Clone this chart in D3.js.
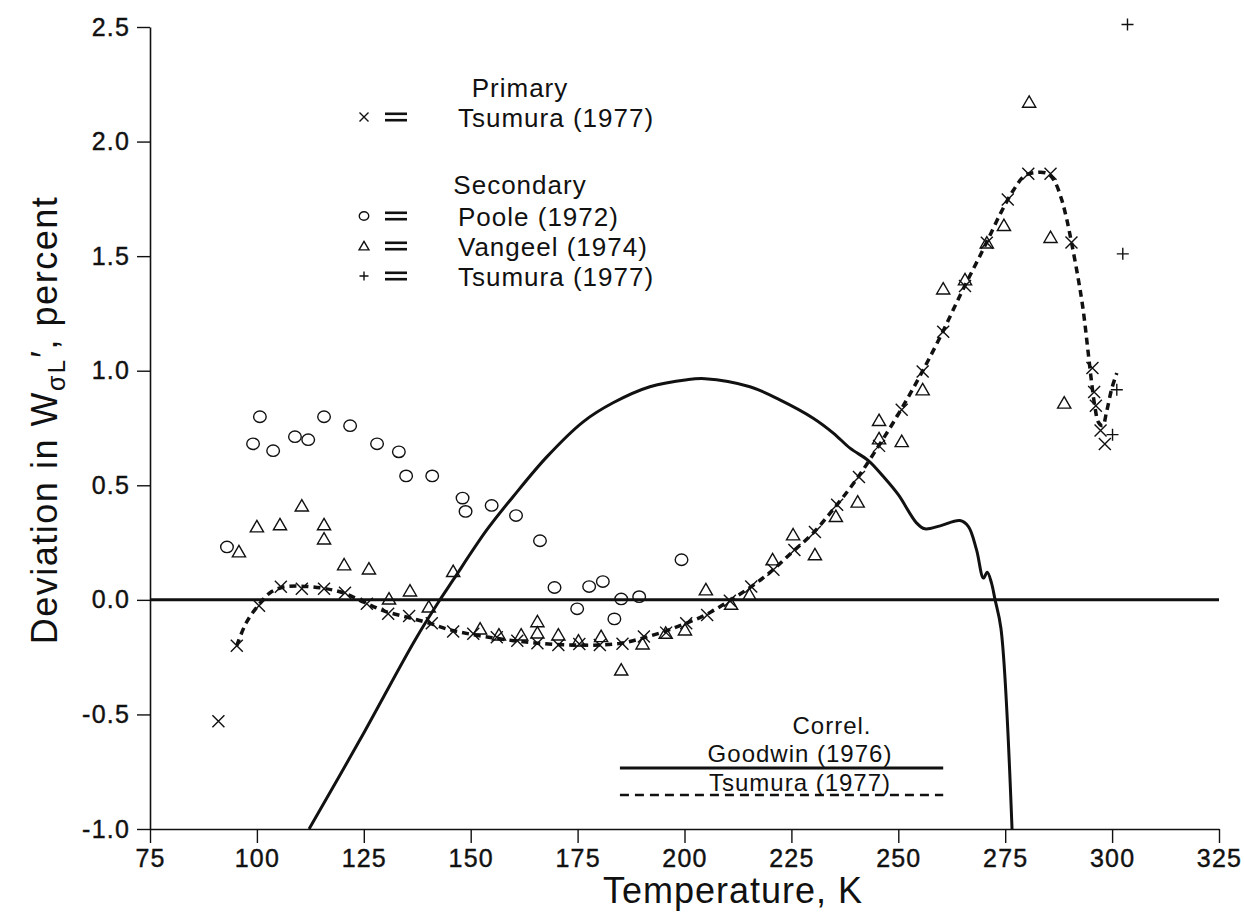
<!DOCTYPE html>
<html>
<head>
<meta charset="utf-8">
<script src="https://cdn.jsdelivr.net/npm/d3@7"></script>
<style>
  body { margin: 0; background: #fff; }
  svg { display: block; }
</style>
</head>
<body>
<svg width="1244" height="918"></svg>
<script>
// Primary data: Tsumura (1977), [T in K, deviation in percent]
const tsumuraPrimary = [
  [91.0, -0.53], [95.3, -0.2], [100.5, -0.026], [105.6, 0.057], [110.5, 0.048],
  [115.7, 0.048], [120.6, 0.031], [125.7, -0.017], [130.7, -0.061], [135.6, -0.07],
  [140.9, -0.102], [145.9, -0.138], [150.6, -0.148], [156.1, -0.163], [160.9, -0.178],
  [165.6, -0.189], [170.5, -0.197], [175.4, -0.193], [180.2, -0.197], [185.5, -0.192],
  [190.5, -0.16], [195.7, -0.143], [200.4, -0.102], [205.3, -0.066], [210.6, -0.004],
  [215.6, 0.058], [220.8, 0.131], [225.7, 0.218], [230.5, 0.296], [235.7, 0.415],
  [240.8, 0.536], [245.5, 0.672], [250.8, 0.83], [255.7, 0.997], [260.5, 1.17],
  [265.6, 1.37], [270.7, 1.558], [275.6, 1.747], [280.4, 1.86], [285.6, 1.86],
  [290.5, 1.56], [295.4, 1.012], [295.8, 0.907], [296.2, 0.847], [297.3, 0.739],
  [298.3, 0.68]
];

// Secondary data
const poole = [
  [93.0, 0.231], [99.1, 0.681], [100.7, 0.799], [103.8, 0.651], [108.9, 0.712],
  [112.0, 0.699], [115.7, 0.799], [121.8, 0.76], [128.1, 0.681], [133.2, 0.646],
  [134.9, 0.541], [141.0, 0.541], [148.1, 0.444], [148.8, 0.386], [154.9, 0.412],
  [160.6, 0.368], [166.2, 0.258], [169.6, 0.054], [177.7, 0.058], [180.9, 0.08],
  [174.9, -0.039], [183.6, -0.083], [185.2, 0.004], [189.4, 0.014], [199.3, 0.175]
];

const vangeel = [
  [95.8, 0.21], [100.0, 0.319], [105.4, 0.328], [110.5, 0.41], [115.7, 0.328],
  [115.7, 0.266], [120.4, 0.153], [126.2, 0.135], [135.8, 0.039], [130.9, 0.004],
  [140.2, -0.031], [145.9, 0.124], [152.2, -0.127], [156.6, -0.153], [161.8, -0.153],
  [165.6, -0.095], [165.6, -0.144], [170.5, -0.153], [175.2, -0.179], [180.5, -0.16],
  [185.2, -0.306], [190.2, -0.192], [195.6, -0.145], [200.1, -0.131], [205.0, 0.044],
  [210.9, -0.019], [215.2, 0.022], [220.6, 0.175], [225.4, 0.284], [230.5, 0.197],
  [235.4, 0.364], [240.5, 0.427], [245.5, 0.783], [245.5, 0.703], [250.8, 0.691],
  [255.7, 0.917], [260.5, 1.357], [265.6, 1.397], [270.7, 1.558], [274.7, 1.634],
  [280.6, 2.172], [285.6, 1.582], [288.8, 0.859]
];

const tsumuraSecondary = [
  [303.6, 2.511], [302.5, 1.51], [301.1, 0.917], [300.1, 0.721]
];

// Correlations
const goodwinCurve = [
  [112.2, -1.0], [124.1, -0.611], [137.0, -0.175], [142.8, 0.0], [145.9, 0.087],
  [153.8, 0.306], [159.9, 0.45], [167.8, 0.624], [176.3, 0.777], [183.3, 0.86],
  [191.9, 0.93], [200.6, 0.961], [204.8, 0.965], [215.3, 0.93], [222.3, 0.873],
  [230.1, 0.793], [234.8, 0.728], [238.7, 0.662], [243.0, 0.608], [246.5, 0.538],
  [250.0, 0.459], [254.3, 0.335], [256.2, 0.31], [259.8, 0.323], [264.4, 0.346],
  [266.4, 0.32], [268.3, 0.218], [269.9, 0.095], [270.8, 0.121], [271.8, 0.073],
  [272.6, 0.003], [274.0, -0.124], [276.6, -1.0]
];

const tsumuraCurve = [
  [95.3, -0.2], [97.5, -0.1], [100.5, -0.02], [103, 0.03], [106, 0.055], [110, 0.06],
  [115, 0.052], [120, 0.032], [125, -0.01], [130, -0.05], [135, -0.075], [140, -0.1],
  [145, -0.13], [150, -0.15], [155, -0.165], [160, -0.178], [165, -0.188], [170, -0.195],
  [175, -0.197], [180, -0.197], [185, -0.19], [190, -0.168], [195, -0.14], [200, -0.105],
  [205, -0.065], [210, -0.01], [215, 0.05], [220, 0.12], [225, 0.205], [230, 0.29],
  [235, 0.4], [240, 0.52], [245, 0.66], [250, 0.81], [255, 0.975], [260, 1.155],
  [265, 1.35], [270, 1.535], [274, 1.69], [277, 1.79], [279.5, 1.85], [282, 1.865],
  [285, 1.86], [286.6, 1.825], [288.2, 1.747], [289.4, 1.66], [290.5, 1.56], [292, 1.41],
  [293.2, 1.27], [294.4, 1.08], [295.2, 0.95], [296, 0.84], [296.8, 0.775], [297.8, 0.76],
  [298.7, 0.82], [299.9, 0.92], [301.1, 0.99]
];

const xTicks = [75, 100, 125, 150, 175, 200, 225, 250, 275, 300, 325];
const yTicks = [-1.0, -0.5, 0.0, 0.5, 1.0, 1.5, 2.0, 2.5];

const legendEntries = [
  { group: "Primary", sym: "x", label: "Tsumura (1977)" },
  { group: "Secondary", sym: "o", label: "Poole (1972)" },
  { group: null, sym: "t", label: "Vangeel (1974)" },
  { group: null, sym: "p", label: "Tsumura (1977)" }
];
const corrEntries = [
  { label: "Goodwin (1976)", dash: null },
  { label: "Tsumura (1977)", dash: "9,6" }
];

const font = "'Liberation Sans', Arial, Helvetica, sans-serif";
const svg = d3.select("svg").style("font-family", font);

const x = d3.scaleLinear().domain([75, 325]).range([150, 1219]);
const y = d3.scaleLinear().domain([-1, 2.5]).range([829, 27]);

// clip for curves
svg.append("clipPath").attr("id", "plot")
  .append("rect").attr("x", 150).attr("y", 0).attr("width", 1080).attr("height", 829);

// --- Axes ---
const yAxis = svg.append("g")
  .attr("transform", `translate(${x(75)},0)`)
  .call(d3.axisLeft(y).tickValues(yTicks).tickSize(13).tickSizeOuter(0).tickPadding(7)
    .tickFormat((d) => d.toFixed(1)));

const xAxis = svg.append("g")
  .attr("transform", `translate(0,${y(-1)})`)
  .call(d3.axisBottom(x).tickValues(xTicks).tickSize(14).tickSizeOuter(0).tickPadding(6));

[yAxis, xAxis].forEach((g) => {
  g.select(".domain").attr("stroke", "#111").attr("stroke-width", 1.6);
  g.selectAll(".tick line").attr("stroke", "#111").attr("stroke-width", 1.4);
  g.selectAll(".tick text")
    .attr("fill", "#111")
    .attr("stroke", "#111")
    .attr("stroke-width", 0.4)
    .style("font-family", font)
    .style("font-size", "25px")
    .style("letter-spacing", "1.2px");
});

// zero line
svg.append("line")
  .attr("x1", x(75)).attr("x2", x(325))
  .attr("y1", y(0)).attr("y2", y(0))
  .attr("stroke", "#111").attr("stroke-width", 3);

// --- Curves ---
const line = d3.line()
  .x((d) => x(d[0]))
  .y((d) => y(d[1]))
  .curve(d3.curveCatmullRom.alpha(0.5));

svg.append("path")
  .attr("d", line(goodwinCurve))
  .attr("clip-path", "url(#plot)")
  .attr("fill", "none")
  .attr("stroke", "#111")
  .attr("stroke-width", 3);

svg.append("path")
  .attr("d", line(tsumuraCurve))
  .attr("fill", "none")
  .attr("stroke", "#111")
  .attr("stroke-width", 3.5)
  .attr("stroke-dasharray", "7,5");

// --- Markers ---
function drawSym(g, sym, s) {
  const st = { stroke: "#111", "stroke-width": 1.4, fill: "none" };
  let el;
  if (sym === "o") {
    el = g.append("ellipse").attr("rx", s * 1.05).attr("ry", s * 0.95);
  } else if (sym === "t") {
    el = g.append("path").attr("d", `M0,${-s * 1.05}L${s * 1.1},${s * 0.85}L${-s * 1.1},${s * 0.85}Z`);
  } else if (sym === "x") {
    el = g.append("path").attr("d", `M${-s},${-s}L${s},${s}M${-s},${s}L${s},${-s}`);
  } else {
    el = g.append("path").attr("d", `M${-s},0L${s},0M0,${-s}L0,${s}`);
  }
  Object.entries(st).forEach(([k, v]) => el.attr(k, v));
}

function drawSeries(data, sym, s) {
  svg.append("g")
    .selectAll("g")
    .data(data)
    .join("g")
    .attr("transform", (d) => `translate(${x(d[0])},${y(d[1])})`)
    .each(function () { drawSym(d3.select(this), sym, s); });
}

drawSeries(poole, "o", 6);
drawSeries(vangeel, "t", 6);
drawSeries(tsumuraSecondary, "p", 6);
drawSeries(tsumuraPrimary, "x", 6);

// --- Legend (symbols) ---
const legend = svg.append("g").attr("fill", "#111")
  .style("font-size", "26px").style("letter-spacing", "1px");
const rowY = [117, 216, 246, 276];
const groupY = [88, 185];
let gi = 0;
legendEntries.forEach((e, i) => {
  if (e.group) {
    legend.append("text").attr("x", 520).attr("y", groupY[gi++] + 9)
      .attr("text-anchor", "middle").text(e.group);
  }
  const g = legend.append("g").attr("transform", `translate(364,${rowY[i]})`);
  drawSym(g, e.sym, 4.5);
  legend.append("rect").attr("x", 385).attr("y", rowY[i] - 4.5).attr("width", 22).attr("height", 2.6);
  legend.append("rect").attr("x", 385).attr("y", rowY[i] + 1.9).attr("width", 22).attr("height", 2.6);
  legend.append("text").attr("x", 458).attr("y", rowY[i] + 9.5).text(e.label);
});

// --- Legend (correlations) ---
const corr = svg.append("g").attr("fill", "#111")
  .style("font-size", "24px").style("letter-spacing", "1px");
corr.append("text").attr("x", 832).attr("y", 734).attr("text-anchor", "middle").text("Correl.");
const corrText = [762, 791];
const corrLine = [768, 795];
corrEntries.forEach((e, i) => {
  corr.append("text").attr("x", 800).attr("y", corrText[i]).attr("text-anchor", "middle").text(e.label);
  corr.append("line")
    .attr("x1", x(184.9)).attr("x2", x(260.5))
    .attr("y1", corrLine[i]).attr("y2", corrLine[i])
    .attr("stroke", "#111")
    .attr("stroke-width", e.dash ? 2.4 : 3)
    .attr("stroke-dasharray", e.dash);
});

// --- Axis titles ---
svg.append("text")
  .attr("x", 733).attr("y", 903)
  .attr("text-anchor", "middle")
  .attr("fill", "#111")
  .style("font-size", "36px").style("letter-spacing", "1px")
  .text("Temperature, K");

const yt = svg.append("text")
  .attr("transform", "translate(57,420) rotate(-90)")
  .attr("text-anchor", "middle")
  .attr("fill", "#111")
  .style("font-size", "36px").style("letter-spacing", "1.5px");
yt.append("tspan").text("Deviation in W");
yt.append("tspan").attr("dy", 8).style("font-size", "25px").text("σ");
yt.append("tspan").style("font-size", "25px").style("font-family", "'Liberation Mono', monospace").text("L");
yt.append("tspan").attr("dy", -8).text("′, percent");
</script>
</body>
</html>
